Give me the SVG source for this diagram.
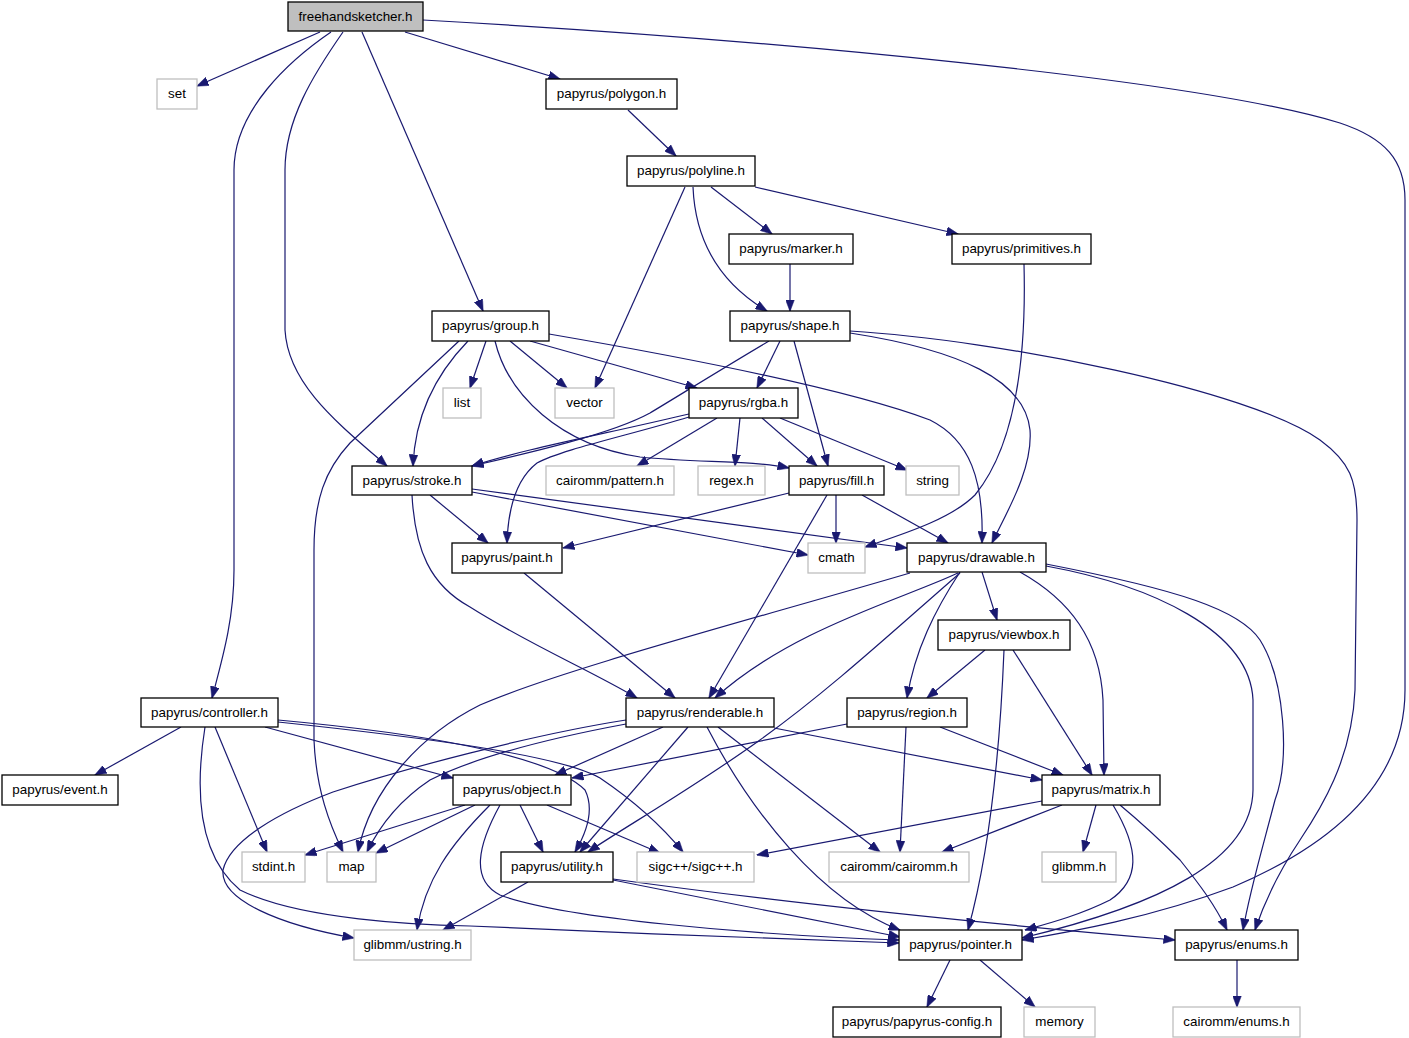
<svg xmlns="http://www.w3.org/2000/svg" width="1409" height="1038" viewBox="0 0 1409 1038">
<style>
.n rect{fill:#fff;stroke:#000;stroke-width:1.3}
.g rect{fill:#fff;stroke:#bfbfbf;stroke-width:1.3}
.r rect{fill:#bfbfbf;stroke:#000;stroke-width:1.3}
text{font-family:"Liberation Sans",Arial,sans-serif;font-size:13.4px;text-anchor:middle;fill:#000}
#edges path{fill:none;stroke:#191970;stroke-width:1.2;marker-end:url(#ah)}
</style>
<defs>
<marker id="ah" markerUnits="userSpaceOnUse" markerWidth="12" markerHeight="9" viewBox="0 0 12 9" refX="11.5" refY="4.5" orient="auto">
<path d="M0,0 L12,4.5 L0,9 z" fill="#191970" stroke="#191970" stroke-width="0.5"/>
</marker>
</defs>
<rect width="1409" height="1038" fill="#fff"/>
<g id="edges">
<path d="M320,32 L197,86"/>
<path d="M405,32 L560,79"/>
<path d="M362,32 L483,311"/>
<path d="M343,32 C313,75 285,120 285,170 L285,330 C288,385 340,425 387,466"/>
<path d="M331,32 C290,60 234,110 234,170 L234,570 C234,620 222,660 212,698"/>
<path d="M423,20 C780,40 1200,80 1340,123 C1385,138 1405,160 1405,200 L1405,690 C1405,790 1320,850 1233,887 C1150,918 1070,932 1022,940"/>
<path d="M628,110 L676,156"/>
<path d="M685,187 L595,388"/>
<path d="M711,187 L772,234"/>
<path d="M755,187 L958,234"/>
<path d="M693,187 C695,235 715,280 767,311"/>
<path d="M790,264 L790,311"/>
<path d="M1024,264 C1026,340 1020,440 975,495 C950,520 900,535 865,547"/>
<path d="M486,341 L470,388"/>
<path d="M510,341 L567,388"/>
<path d="M530,341 L697,388"/>
<path d="M468,341 C435,375 415,415 413,466"/>
<path d="M459,341 L350,443 C325,470 314,500 314,550 L314,740 C316,790 330,825 343,852"/>
<path d="M495,341 C508,395 560,445 640,457 C700,463 750,460 789,468"/>
<path d="M549,334 C700,360 850,390 930,420 C970,440 984,480 982,543"/>
<path d="M780,341 L757,388"/>
<path d="M769,341 C720,370 680,395 650,413 C610,435 520,455 472,466"/>
<path d="M794,341 L828,466"/>
<path d="M850,333 C960,350 1025,380 1030,430 C1033,470 1005,515 992,543"/>
<path d="M850,331 C1000,340 1250,390 1320,440 C1350,462 1357,480 1357,520 L1355,690 C1352,760 1320,810 1300,840 C1280,870 1265,900 1255,930"/>
<path d="M982,572 L997,620"/>
<path d="M960,572 C935,610 915,650 907,698"/>
<path d="M958,573 C900,600 790,630 715,698"/>
<path d="M960,573 C900,625 830,690 760,740 C690,790 620,830 588,852"/>
<path d="M910,573 C750,620 560,670 480,705 C420,735 370,790 358,852"/>
<path d="M1020,572 C1070,600 1100,640 1103,700 L1104,775"/>
<path d="M1046,566 C1150,585 1250,630 1253,700 L1253,790 C1252,860 1160,905 1022,938"/>
<path d="M1046,564 C1180,590 1240,610 1260,640 C1285,680 1290,760 1275,800 C1262,850 1250,890 1243,930"/>
<path d="M985,650 L927,698"/>
<path d="M1004,650 C1000,750 990,850 968,930"/>
<path d="M1013,650 L1092,775"/>
<path d="M181,727 L95,775"/>
<path d="M215,727 L267,852"/>
<path d="M205,727 C195,790 198,855 240,890 C300,920 420,925 470,926 C600,932 800,940 899,943"/>
<path d="M265,727 L453,778"/>
<path d="M278,720 C420,733 550,755 585,790 C595,810 585,835 575,852"/>
<path d="M278,722 C420,737 560,755 600,778 C640,805 665,830 683,852"/>
<path d="M663,727 L555,775"/>
<path d="M688,727 L580,852"/>
<path d="M707,727 C750,810 820,900 900,930"/>
<path d="M718,727 L880,852"/>
<path d="M774,728 L1042,780"/>
<path d="M626,724 C540,740 470,760 430,780 C400,800 380,825 367,852"/>
<path d="M626,720 C530,735 400,770 333,792 C280,812 230,840 223,870 C220,900 280,925 354,938"/>
<path d="M847,724 L572,778"/>
<path d="M906,727 L900,852"/>
<path d="M940,727 L1063,775"/>
<path d="M465,805 L305,855"/>
<path d="M475,805 L376,853"/>
<path d="M520,805 L543,852"/>
<path d="M547,805 L660,853"/>
<path d="M490,805 C450,845 425,880 417,930"/>
<path d="M500,805 C478,845 470,880 500,895 C560,918 750,935 899,940"/>
<path d="M528,882 L443,930"/>
<path d="M613,880 L900,937"/>
<path d="M613,879 C800,905 1000,925 1175,940"/>
<path d="M1042,801 L757,855"/>
<path d="M1062,805 L942,852"/>
<path d="M1096,805 L1083,852"/>
<path d="M1113,805 C1140,850 1140,880 1110,900 C1080,915 1050,923 1025,930"/>
<path d="M1120,805 C1150,830 1170,850 1180,860 C1200,885 1215,905 1227,930"/>
<path d="M950,960 L927,1007"/>
<path d="M980,960 L1035,1007"/>
<path d="M1237,960 L1237,1007"/>
<path d="M430,495 L488,543"/>
<path d="M412,495 C415,550 430,585 470,607 C530,645 590,670 637,698"/>
<path d="M472,489 L907,548"/>
<path d="M472,492 L808,555"/>
<path d="M689,414 C600,435 520,450 472,466"/>
<path d="M689,417 C630,435 560,450 537,463 C515,480 508,510 507,543"/>
<path d="M717,418 L637,466"/>
<path d="M740,418 L735,466"/>
<path d="M762,418 L817,466"/>
<path d="M780,418 L907,470"/>
<path d="M789,493 L563,548"/>
<path d="M836,495 L836,543"/>
<path d="M862,495 L948,543"/>
<path d="M827,495 L709,698"/>
<path d="M524,573 L675,698"/>
</g>
<g id="freehandsketcher" class="r"><rect x="288" y="2" width="135" height="29"/><text x="355.5" y="21">freehandsketcher.h</text></g>
<g id="set" class="g"><rect x="157" y="79" width="40" height="30"/><text x="177" y="98">set</text></g>
<g id="polygon" class="n"><rect x="546" y="79" width="131" height="30"/><text x="611.5" y="98">papyrus/polygon.h</text></g>
<g id="polyline" class="n"><rect x="627" y="156" width="128" height="30"/><text x="691" y="175">papyrus/polyline.h</text></g>
<g id="marker" class="n"><rect x="729" y="234" width="124" height="30"/><text x="791" y="253">papyrus/marker.h</text></g>
<g id="primitives" class="n"><rect x="952" y="234" width="139" height="30"/><text x="1021.5" y="253">papyrus/primitives.h</text></g>
<g id="group" class="n"><rect x="432" y="311" width="117" height="30"/><text x="490.5" y="330">papyrus/group.h</text></g>
<g id="shape" class="n"><rect x="730" y="311" width="120" height="30"/><text x="790" y="330">papyrus/shape.h</text></g>
<g id="list" class="g"><rect x="443" y="388" width="38" height="30"/><text x="462" y="407">list</text></g>
<g id="vector" class="g"><rect x="555" y="388" width="59" height="30"/><text x="584.5" y="407">vector</text></g>
<g id="rgba" class="n"><rect x="689" y="388" width="109" height="30"/><text x="743.5" y="407">papyrus/rgba.h</text></g>
<g id="stroke" class="n"><rect x="352" y="466" width="120" height="29"/><text x="412" y="485">papyrus/stroke.h</text></g>
<g id="pattern" class="g"><rect x="546" y="466" width="128" height="29"/><text x="610" y="485">cairomm/pattern.h</text></g>
<g id="regex" class="g"><rect x="698" y="466" width="67" height="29"/><text x="731.5" y="485">regex.h</text></g>
<g id="fill" class="n"><rect x="789" y="466" width="95" height="29"/><text x="836.5" y="485">papyrus/fill.h</text></g>
<g id="string" class="g"><rect x="906" y="466" width="53" height="29"/><text x="932.5" y="485">string</text></g>
<g id="paint" class="n"><rect x="452" y="543" width="110" height="30"/><text x="507" y="562">papyrus/paint.h</text></g>
<g id="cmath" class="g"><rect x="808" y="543" width="57" height="30"/><text x="836.5" y="562">cmath</text></g>
<g id="drawable" class="n"><rect x="907" y="543" width="139" height="29"/><text x="976.5" y="562">papyrus/drawable.h</text></g>
<g id="viewbox" class="n"><rect x="938" y="620" width="132" height="30"/><text x="1004" y="639">papyrus/viewbox.h</text></g>
<g id="controller" class="n"><rect x="141" y="698" width="137" height="29"/><text x="209.5" y="717">papyrus/controller.h</text></g>
<g id="renderable" class="n"><rect x="626" y="698" width="148" height="29"/><text x="700" y="717">papyrus/renderable.h</text></g>
<g id="region" class="n"><rect x="847" y="698" width="120" height="29"/><text x="907" y="717">papyrus/region.h</text></g>
<g id="event" class="n"><rect x="2" y="775" width="116" height="30"/><text x="60" y="794">papyrus/event.h</text></g>
<g id="object" class="n"><rect x="453" y="775" width="118" height="30"/><text x="512" y="794">papyrus/object.h</text></g>
<g id="matrix" class="n"><rect x="1042" y="775" width="118" height="30"/><text x="1101" y="794">papyrus/matrix.h</text></g>
<g id="stdint" class="g"><rect x="242" y="852" width="63" height="30"/><text x="273.5" y="871">stdint.h</text></g>
<g id="map" class="g"><rect x="327" y="852" width="49" height="30"/><text x="351.5" y="871">map</text></g>
<g id="utility" class="n"><rect x="501" y="852" width="112" height="30"/><text x="557" y="871">papyrus/utility.h</text></g>
<g id="sigc" class="g"><rect x="637" y="852" width="117" height="30"/><text x="695.5" y="871">sigc++/sigc++.h</text></g>
<g id="cairomm" class="g"><rect x="829" y="852" width="140" height="30"/><text x="899" y="871">cairomm/cairomm.h</text></g>
<g id="glibmm" class="g"><rect x="1042" y="852" width="74" height="30"/><text x="1079" y="871">glibmm.h</text></g>
<g id="ustring" class="g"><rect x="354" y="930" width="117" height="30"/><text x="412.5" y="949">glibmm/ustring.h</text></g>
<g id="pointer" class="n"><rect x="899" y="930" width="123" height="30"/><text x="960.5" y="949">papyrus/pointer.h</text></g>
<g id="enums" class="n"><rect x="1175" y="930" width="123" height="30"/><text x="1236.5" y="949">papyrus/enums.h</text></g>
<g id="config" class="n"><rect x="833" y="1007" width="168" height="30"/><text x="917" y="1026">papyrus/papyrus-config.h</text></g>
<g id="memory" class="g"><rect x="1024" y="1007" width="71" height="30"/><text x="1059.5" y="1026">memory</text></g>
<g id="cairoenums" class="g"><rect x="1173" y="1007" width="127" height="30"/><text x="1236.5" y="1026">cairomm/enums.h</text></g>
</svg>
